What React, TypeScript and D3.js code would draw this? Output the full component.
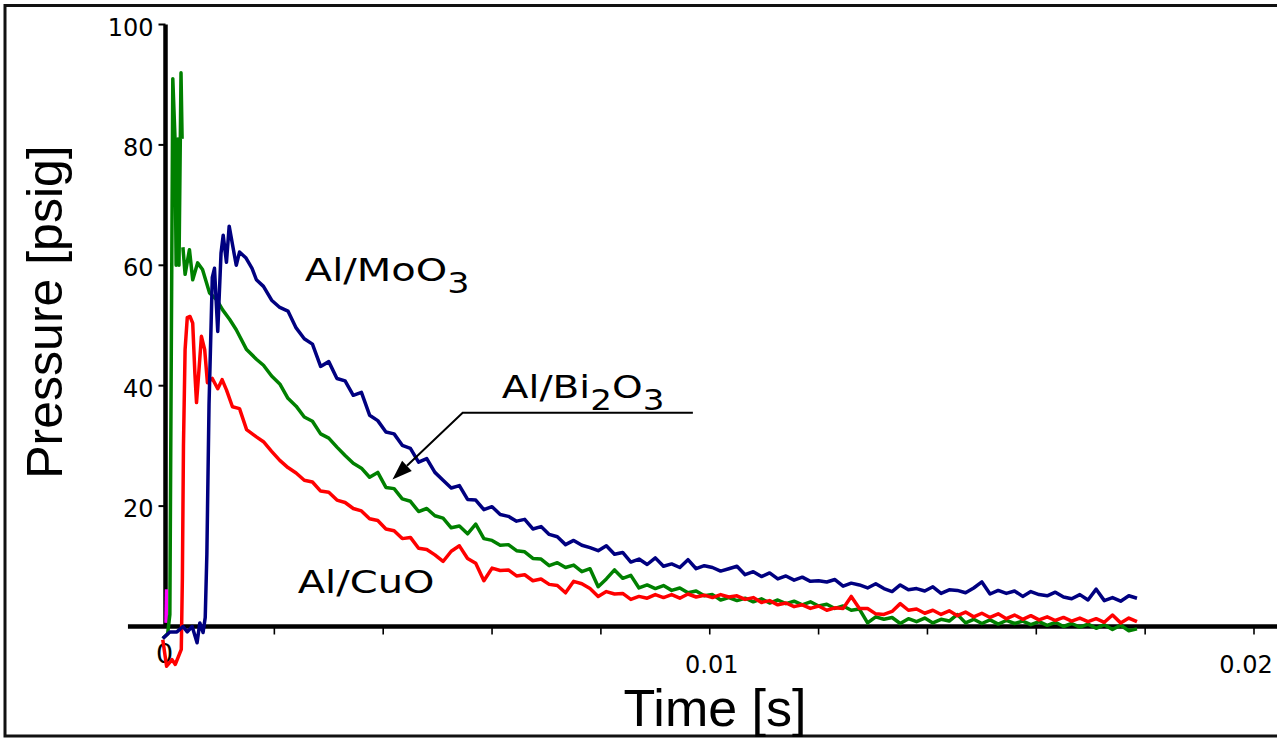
import * as d3 from "d3";

// time grid (ms) shared by the decaying part of every trace
const tailMs = [
  1.8, 1.95, 2.1, 2.25, 2.4, 2.55, 2.7, 2.85, 3.0, 3.15,
  3.3, 3.45, 3.6, 3.75, 3.9, 4.05, 4.2, 4.35, 4.5, 4.65,
  4.8, 4.95, 5.1, 5.25, 5.4, 5.55, 5.7, 5.85, 6.0, 6.15,
  6.3, 6.45, 6.6, 6.75, 6.9, 7.05, 7.2, 7.35, 7.5, 7.65,
  7.8, 7.95, 8.1, 8.25, 8.4, 8.55, 8.7, 8.85, 9.0, 9.15,
  9.3, 9.45, 9.6, 9.75, 9.9, 10.05, 10.2, 10.35, 10.5, 10.65,
  10.8, 10.95, 11.1, 11.25, 11.4, 11.55, 11.7, 11.85, 12.0, 12.15,
  12.3, 12.45, 12.6, 12.75, 12.9, 13.05, 13.2, 13.35, 13.5, 13.65,
  13.8, 13.95, 14.1, 14.25, 14.4, 14.55, 14.7, 14.85, 15.0, 15.15,
  15.3, 15.45, 15.6, 15.75, 15.9, 16.05, 16.2, 16.35, 16.5, 16.65,
  16.8, 16.95, 17.1, 17.25, 17.4, 17.55, 17.7, 17.85,
];

// Al/MoO3 (blue)
const moO3Head = [
  [-0.05, -2], [0.08, -0.9], [0.21, -0.9], [0.32, 0], [0.4, -0.9], [0.49, 0],
  [0.58, -2.7], [0.63, 0.6], [0.69, -1], [0.73, 1.5], [0.76, 12], [0.8, 37],
  [0.86, 58], [0.9, 59.5], [0.96, 49], [1.02, 62], [1.06, 65], [1.12, 60.5],
  [1.17, 66.5], [1.23, 63.5], [1.3, 60], [1.36, 62.2], [1.48, 61.2], [1.59, 59.5],
  [1.67, 57.6],
];
const moO3Tail = [
  56.5, 54.2, 53.0, 52.4, 49.6, 47.8, 46.9, 43.2, 44.0, 41.2,
  40.8, 38.4, 38.9, 35.1, 34.2, 32.3, 32.0, 30.1, 29.6, 27.3,
  27.9, 25.6, 24.3, 23.0, 23.4, 21.1, 21.0, 19.4, 19.9, 18.6,
  18.3, 17.5, 17.8, 16.2, 16.6, 15.3, 14.9, 13.6, 14.3, 13.5,
  13.1, 12.6, 13.4, 12.0, 12.3, 10.7, 11.2, 10.3, 11.4, 10.0,
  10.4, 9.8, 11.1, 9.6, 10.1, 9.8, 9.2, 9.6, 10.0, 8.6,
  9.1, 8.3, 8.9, 7.9, 8.4, 7.7, 8.2, 7.5, 7.6, 7.4,
  7.8, 6.7, 7.2, 6.9, 6.4, 7.1, 6.3, 5.8, 6.9, 6.1,
  6.3, 5.9, 6.6, 5.5, 6.1, 6.0, 5.6, 6.4, 7.4, 5.4,
  6.0, 5.5, 5.9, 5.0, 5.8, 5.3, 5.1, 5.7, 4.9, 4.6,
  5.3, 4.4, 6.2, 4.3, 4.8, 4.2, 5.1, 4.7,
];

// Al/Bi2O3 (green), null marks a break in the trace
const bi2O3Head = [
  [-0.05, -2], [0.04, -1.2], [0.08, 2], [0.134, 91], [0.175, 81], [0.195, 60],
  [0.226, 81], [0.248, 60], [0.285, 92], [0.305, 81], [0.305, null], [0.32, 63],
  [0.36, 58.5], [0.44, 62.6], [0.5, 57.6], [0.59, 60.4], [0.68, 59.3], [0.81, 55.4],
  [0.94, 54.3], [1.05, 52.6], [1.18, 51], [1.3, 49.3], [1.49, 46], [1.67, 44.4],
];
const bi2O3Tail = [
  43.4, 41.6, 40.3, 37.9, 36.6, 34.8, 34.1, 32.0, 31.3, 29.8,
  28.4, 27.1, 26.3, 24.8, 25.6, 23.1, 22.9, 21.2, 20.8, 19.1,
  19.6, 18.4, 18.0, 16.4, 16.7, 15.4, 17.0, 14.6, 14.3, 13.5,
  13.6, 12.6, 12.4, 11.3, 11.2, 10.1, 10.6, 9.8, 10.2, 9.1,
  9.6, 6.6, 7.9, 9.4, 8.0, 8.5, 6.4, 6.9, 6.3, 6.8,
  6.0, 6.4, 5.6, 5.9, 5.1, 5.3, 4.4, 4.8, 4.3, 4.7,
  4.1, 4.6, 3.9, 4.4, 3.8, 4.2, 3.6, 4.1, 3.4, 3.7,
  3.0, 3.4, 2.7, 2.9, 0.6, 1.6, 1.2, 1.5, 0.5, 1.3,
  0.8, 1.4, 0.6, 1.2, 0.9, 2.0, 0.6, 1.2, 0.5, 1.1,
  0.4, 1.0, 0.5, 0.9, 0.3, 0.8, 0.2, 0.7, 0.0, 0.5,
  -0.1, 0.4, -0.3, 0.3, -0.5, 0.2, -0.7, -0.4,
];

// Al/CuO (red)
const cuOHead = [
  [-0.05, -2.2], [0.02, -6.6], [0.12, -5.5], [0.18, -6.3], [0.25, -4.7], [0.29, -3.8],
  [0.31, 8], [0.33, 30], [0.36, 46], [0.4, 51.3], [0.45, 51.5], [0.5, 50.4],
  [0.54, 42], [0.57, 37.2], [0.61, 42], [0.66, 48.2], [0.72, 46], [0.77, 40.5],
  [0.86, 41.2], [0.96, 39.5], [1.04, 41], [1.12, 39.3], [1.23, 36.5], [1.36, 36.2],
  [1.49, 32.7], [1.67, 31.5],
];
const cuOTail = [
  30.7, 29.1, 27.6, 26.4, 25.5, 24.3, 24.0, 22.5, 22.3, 21.0,
  20.6, 19.6, 19.2, 17.9, 17.6, 16.2, 15.9, 14.6, 14.8, 13.0,
  12.8, 11.9, 10.8, 12.5, 13.4, 11.3, 10.5, 7.6, 9.7, 9.3,
  9.4, 8.4, 8.6, 7.6, 7.9, 7.0, 6.8, 5.6, 7.5, 7.1,
  6.3, 5.0, 5.8, 5.4, 5.5, 4.5, 5.0, 4.7, 5.3, 4.8,
  5.3, 4.7, 5.4, 4.9, 5.2, 4.8, 5.3, 4.9, 5.1, 4.5,
  4.8, 4.0, 4.3, 3.6, 3.9, 3.3, 3.6, 3.0, 3.4, 2.7,
  3.1, 3.0, 5.0, 3.0, 3.0, 2.1, 2.0, 2.5, 3.8, 2.7,
  2.9, 2.2, 2.7, 2.0, 2.6, 1.8, 2.4, 1.6, 2.2, 1.5,
  2.1, 1.3, 1.9, 1.2, 1.8, 1.1, 1.6, 1.0, 1.5, 0.9,
  1.4, 0.8, 1.3, 0.7, 1.9, 0.6, 1.4, 0.8,
];

// short magenta trace at the origin
const trigger = [[0.01, 0.6], [0.02, 6.2]];

const yTicks = [20, 40, 60, 80, 100];
const xTicks = [0.002, 0.004, 0.006, 0.008, 0.01, 0.012, 0.014, 0.016, 0.018, 0.02];
const xTickLabels = [
  { v: 0.01, label: "0.01", dx: 2 },
  { v: 0.02, label: "0.02", dx: -8 },
];

const W = 1277;
const H = 738;
const margin = { left: 165.5, top: 24.5, right: 23, bottom: 111.5 };

const x = d3.scaleLinear().domain([0, 0.02]).range([margin.left, W - margin.right]);
const y = d3.scaleLinear().domain([0, 100]).range([H - margin.bottom, margin.top]);

const join = (head, tail) => head.concat(tailMs.map((t, i) => [t, tail[i]]));

const series = [
  { name: "trigger", color: "#ff00ff", data: trigger },
  { name: "Al/Bi2O3", color: "#008000", data: join(bi2O3Head, bi2O3Tail) },
  { name: "Al/CuO", color: "#ff0000", data: join(cuOHead, cuOTail) },
  { name: "Al/MoO3", color: "#000080", data: join(moO3Head, moO3Tail) },
];

const line = d3
  .line<any>()
  .defined((d) => d[1] !== null)
  .x((d) => x(d[0] / 1000))
  .y((d) => y(d[1]));

// leader for the Al/Bi2O3 label, in data units
const leader = { tipT: 0.00417, tipP: 24.4, cornerT: 0.00546, cornerP: 35.5, endT: 0.00969 };

const labelFont = "'DejaVu Sans', Verdana, sans-serif";
const titleFont = "'Liberation Sans', Arial, sans-serif";

function Arrow() {
  const tx = x(leader.tipT), ty = y(leader.tipP);
  const cx = x(leader.cornerT), cy = y(leader.cornerP);
  const ang = Math.atan2(ty - cy, tx - cx);
  const len = 20, hw = 7;
  const bx = tx - len * Math.cos(ang), by = ty - len * Math.sin(ang);
  const px = -Math.sin(ang) * hw, py = Math.cos(ang) * hw;
  return (
    <g>
      <polyline
        points={`${x(leader.endT)},${cy} ${cx},${cy} ${bx},${by}`}
        fill="none"
        stroke="#000"
        strokeWidth={2}
      />
      <polygon points={`${tx},${ty} ${bx + px},${by + py} ${bx - px},${by - py}`} fill="#000" />
    </g>
  );
}

export default function App() {
  const y0 = y(0);
  const x0 = x(0);
  return (
    <svg
      width={W}
      height={H}
      style={{ position: "absolute", left: 0, top: 0, background: "#fff" }}
    >
      <rect x={0} y={0} width={W} height={H} fill="#fff" />
      {/* frame */}
      <path d={`M${W + 5},5.5 H5 V736 H${W + 5}`} fill="none" stroke="#111" strokeWidth={3} />

      {/* y axis */}
      <line x1={x0} x2={x0} y1={y(100)} y2={y0} stroke="#000" strokeWidth={4.5} />
      {yTicks.map((v) => (
        <g key={v}>
          <line x1={x0 - 7} x2={x0} y1={y(v)} y2={y(v)} stroke="#000" strokeWidth={2} />
          <text
            x={x0 - 12}
            y={y(v)}
            dy={11}
            textAnchor="end"
            fontFamily={labelFont}
            fontSize={24}
          >
            {v}
          </text>
        </g>
      ))}

      {/* x axis */}
      <line x1={x(-0.00069)} x2={W} y1={y0} y2={y0} stroke="#000" strokeWidth={4.5} />
      {xTicks.map((v) => (
        <line key={v} x1={x(v)} x2={x(v)} y1={y0} y2={y0 + 8} stroke="#000" strokeWidth={1.6} />
      ))}
      {xTickLabels.map((d) => (
        <text
          key={d.label}
          x={x(d.v) + d.dx}
          y={y0 + 46.5}
          textAnchor="middle"
          fontFamily={labelFont}
          fontSize={24}
        >
          {d.label}
        </text>
      ))}
      <text x={x0 - 1} y={y0 + 36.5} textAnchor="middle" fontFamily={labelFont} fontSize={27}>
        0
      </text>

      {/* traces */}
      {series.map((s) => (
        <path
          key={s.name}
          d={line(s.data) || ""}
          fill="none"
          stroke={s.color}
          strokeWidth={3.5}
          strokeLinejoin="round"
        />
      ))}

      {/* axis titles */}
      <text x={715} y={726} textAnchor="middle" fontFamily={titleFont} fontSize={52}>
        Time [s]
      </text>
      <text
        transform="translate(62,312) rotate(-90)"
        textAnchor="middle"
        fontFamily={titleFont}
        fontSize={50}
      >
        Pressure [psig]
      </text>

      {/* series labels */}
      <g transform={`translate(${x(0.00256)},${y(57.4)}) scale(1.25,1)`}>
        <text fontFamily={labelFont} fontSize={32}>
          Al/MoO<tspan fontSize={28} dy={12}>3</tspan>
        </text>
      </g>
      <g transform={`translate(${x(0.00243)},${y(5.6)}) scale(1.25,1)`}>
        <text fontFamily={labelFont} fontSize={32}>
          Al/CuO
        </text>
      </g>
      <g transform={`translate(${x(0.00618)},${y(38.0)}) scale(1.22,1)`}>
        <text fontFamily={labelFont} fontSize={32}>
          Al/Bi<tspan fontSize={28} dy={12}>2</tspan>
          <tspan fontSize={32} dy={-12}>O</tspan>
          <tspan fontSize={28} dy={12}>3</tspan>
        </text>
      </g>
      <Arrow />
    </svg>
  );
}
